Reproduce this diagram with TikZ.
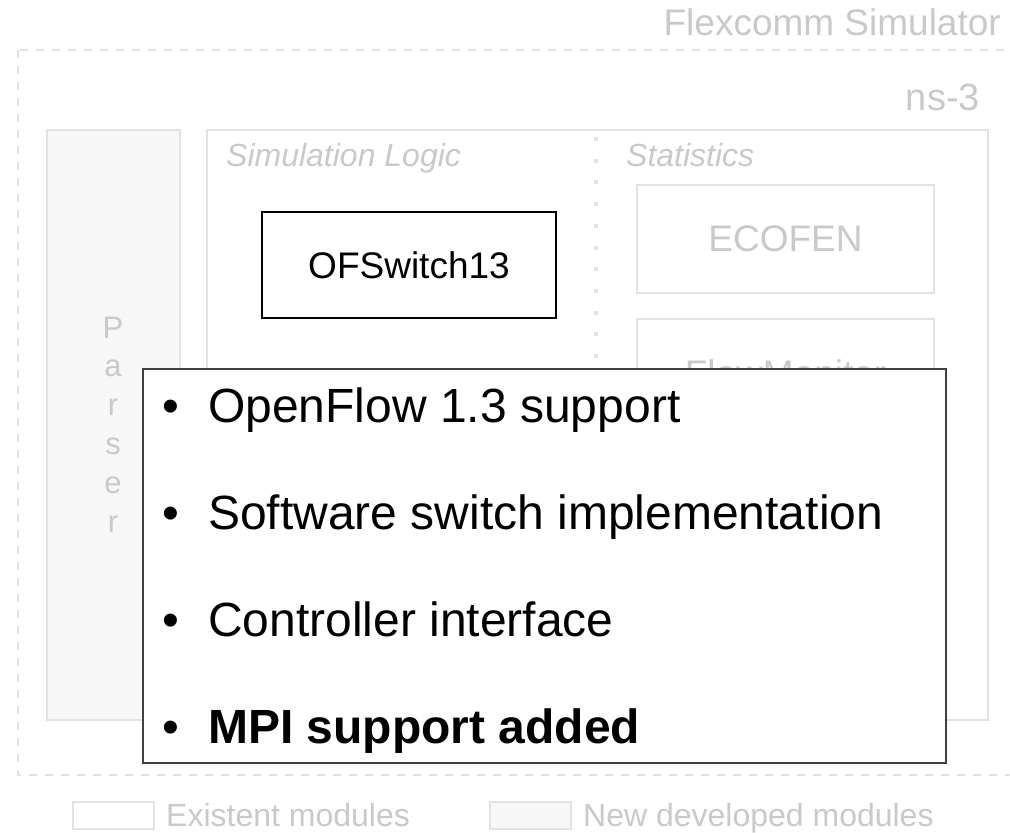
\documentclass[tikz,border=0pt]{standalone}
\usepackage{fontspec}
\setmainfont{Liberation Sans}
\usetikzlibrary{positioning}

\definecolor{faint}{HTML}{E2E2E2}
\definecolor{fainttext}{HTML}{C9C9C9}
\definecolor{newfill}{HTML}{F7F7F7}
\newcommand{\fsz}[1]{\fontsize{#1}{#1}\selectfont}

\tikzset{
    oldmod/.style={draw=faint, line width=2pt, inner sep=0pt},
    newmod/.style={draw=faint, fill=newfill, line width=2pt, inner sep=0pt},
    greylabel/.style={text=fainttext, inner sep=0pt},
}

\begin{document}
\begin{tikzpicture}[x=1pt, y=-1pt]
    \useasboundingbox (0,0) rectangle (1010,833);

    % outer simulator frame
    \draw[faint, line width=2pt, dash pattern=on 8pt off 8pt] (18,50) rectangle (1018,775);
    \node[greylabel, anchor=base east, font=\fsz{37}] (flexcomm) at (1001,35) {Flexcomm Simulator};
    \node[greylabel, anchor=base east, font=\fsz{38}] (ns3) at (980,110) {ns-3};

    % parser and simulation logic
    \node[newmod, minimum width=133pt, minimum height=590pt] (parser) at (113.5,425) {};
    \foreach \ch [count=\k] in {P,a,r,s,e,r}
        \node[greylabel, anchor=base, font=\fsz{31}] (p\k) at (113,{338+38.8*(\k-1)}) {\ch};

    \node[oldmod, minimum width=781pt, minimum height=590pt] (simbox) at (597.5,425) {};
    \draw[faint, line width=4pt, dash pattern=on 4pt off 17.7pt] (596,137) -- (596,365);
    \node[greylabel, anchor=base west, font=\fsz{32}\itshape] (simlogic) at (226,166) {Simulation Logic};
    \node[greylabel, anchor=base west, font=\fsz{32}\itshape] (stats) at (626,166) {Statistics};

    \node[draw, line width=2.5pt, minimum width=294pt, minimum height=106pt, font=\fsz{37}] (ofswitch) at (409,265) {OFSwitch13};

    \node[oldmod, text=fainttext, minimum width=297pt, minimum height=108pt, font=\fsz{37}] (ecofen) at (785.5,239) {ECOFEN};
    \node[oldmod, text=fainttext, minimum width=297pt, minimum height=108pt, font=\fsz{37}] (flowmon) at (785.5,373) {FlowMonitor};

    % feature list
    \node[draw=black!75, fill=white, line width=1.5pt, minimum width=803pt, minimum height=394pt] (features) at (544.5,566) {};
    \foreach \txt [count=\k] in {OpenFlow 1.3 support, Software switch implementation, Controller interface, \textbf{MPI support added}} {
        \node[anchor=base, inner sep=0pt, font=\fsz{48}] (dot\k) at (171,{422+107*(\k-1)}) {\textbullet};
        \node[anchor=base west, inner sep=0pt, font=\fsz{48}] (item\k) at (208,{422+107*(\k-1)}) {\txt};
    }

    % legend
    \node[oldmod, minimum width=81pt, minimum height=27pt] (oldkey) at (113.5,815.5) {};
    \node[greylabel, anchor=base west, font=\fsz{32}] (oldtext) at (166,826) {Existent modules};
    \node[newmod, minimum width=81pt, minimum height=27pt] (newkey) at (530.5,815.5) {};
    \node[greylabel, anchor=base west, font=\fsz{32}] (newtext) at (583,826) {New developed modules};
\end{tikzpicture}
\end{document}
